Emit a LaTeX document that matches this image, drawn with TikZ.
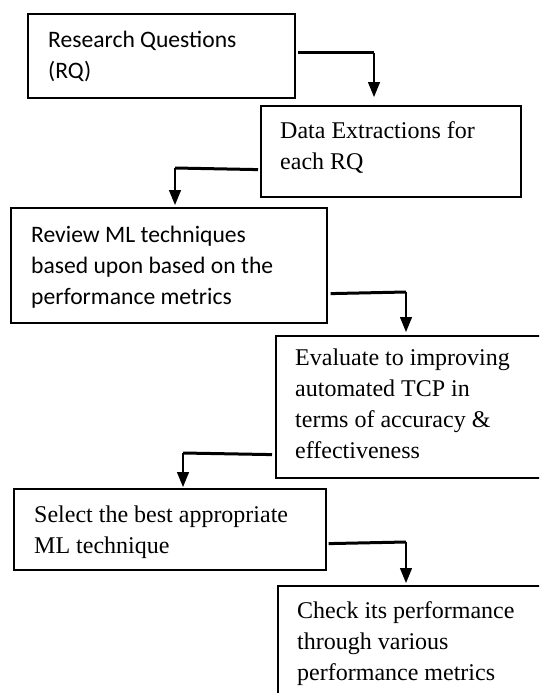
\documentclass[tikz,border=0pt]{standalone}
\usepackage{fontspec}
\newfontfamily\carlitofont{Carlito}
\newfontfamily\timesfont{Liberation Serif}
\usetikzlibrary{arrows.meta,calc}
\tikzset{
  stepbox/.style={draw=black, line width=1.6pt, rectangle, inner sep=0pt, anchor=north west},
  txtsans/.style={font={\carlitofont\fontsize{23.6}{31}\selectfont}, align=left, inner sep=0pt, anchor=north west},
  txtserif/.style={font={\timesfont\fontsize{24}{31}\selectfont}, align=left, inner sep=0pt, anchor=north west},
  thickline/.style={line width=3pt},
  downarrow/.style={line width=1.3pt, -{Triangle[width=12pt,length=15pt]}}
}
\begin{document}
\begin{tikzpicture}[x=1pt,y=-1pt]
\useasboundingbox (0,0) rectangle (539,693);
\clip (0,0) rectangle (539,693);
% boxes
\node[stepbox, minimum width=267pt, minimum height=84pt] (b1) at (27,13) {};
\node[stepbox, minimum width=260pt, minimum height=91pt] (b2) at (260,105) {};
\node[stepbox, minimum width=316pt, minimum height=115pt] (b3) at (10,207) {};
\node[stepbox, minimum width=280pt, minimum height=142pt] (b4) at (275,335) {};
\node[stepbox, minimum width=312pt, minimum height=81pt] (b5) at (13,488) {};
\node[stepbox, minimum width=280pt, minimum height=130pt] (b6) at (277,585) {};
% texts
\node[txtsans] (t1) at (48,25.3) {\strut Research Questions\\(RQ)};
\node[txtserif] (t2) at (280,116.3) {\strut Data Extractions for\\each RQ};
\node[txtsans] (t3) at (31,220.3) {\strut Review ML techniques\\based upon based on the\\performance metrics};
\node[txtserif] (t4) at (295,343.3) {\strut Evaluate to improving\\automated TCP in\\terms of accuracy \&\\effectiveness};
\node[txtserif] (t5) at (34,500.3) {\strut Select the best appropriate\\ML technique};
\node[txtserif] (t6) at (297,596.3) {\strut Check its performance\\through various\\performance metrics};
% connectors
\coordinate (s1) at ($(b1.north east)+(2,40)$);
\coordinate (c1) at (374,53);
\draw[thickline] (s1) -- (c1);
\draw[downarrow, shorten >=8pt] (c1) -- (c1 |- b2.north);

\coordinate (s2) at ($(b2.south west)+(-2,-28)$);
\coordinate (c2) at (175,168);
\draw[thickline] (s2) -- (c2);
\draw[downarrow, shorten >=2pt] (c2) -- (c2 |- b3.north);

\coordinate (s3) at ($(b3.south east)+(3,-30)$);
\coordinate (c3) at (406,292);
\draw[thickline] (s3) -- (c3);
\draw[downarrow, shorten >=3pt] (c3) -- (c3 |- b4.north);

\coordinate (s4) at ($(b4.south west)+(-3,-24)$);
\coordinate (c4) at (183,453);
\draw[thickline] (s4) -- (c4);
\draw[downarrow, shorten >=1pt] (c4) -- (c4 |- b5.north);

\coordinate (s5) at ($(b5.south east)+(2,-27)$);
\coordinate (c5) at (406,542);
\draw[thickline] (s5) -- (c5);
\draw[downarrow, shorten >=2pt] (c5) -- (c5 |- b6.north);
\end{tikzpicture}
\end{document}
